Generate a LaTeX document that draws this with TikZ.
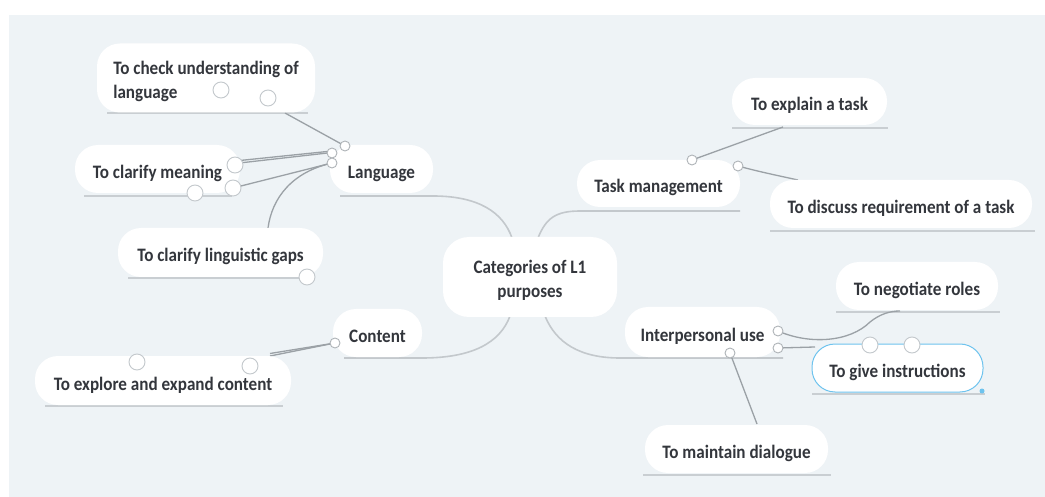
\documentclass[tikz,border=0pt]{standalone}
\usepackage{fontspec}
\setmainfont{Carlito}[FakeStretch=0.9]
\definecolor{bgc}{HTML}{EEF3F6}
\definecolor{txt}{HTML}{33363C}
\definecolor{ulc}{HTML}{C9CED2}
\definecolor{conc}{HTML}{9BA1A6}
\definecolor{brc}{HTML}{C3C8CC}
\definecolor{selc}{HTML}{6EC3EE}
\tikzset{
  box/.style={fill=white, rounded corners=23pt, inner sep=0pt, text=txt,
    font=\bfseries\fontsize{19}{24.5}\selectfont, align=center},
  oneline/.style={text height=19pt, text depth=0pt},
  lbl/.style={text=txt, font=\bfseries\fontsize{19}{24.5}\selectfont, inner sep=0pt},
  uline/.style={draw=ulc, line width=1.6pt},
  branch/.style={draw=brc, line width=1.6pt},
  conn/.style={draw=conc, line width=1.3pt},
  knob/.style={circle, draw=conc!80, fill=white, line width=0.9pt, inner sep=0pt, minimum size=10pt},
  bigknob/.style={circle, draw=brc, fill=white, line width=0.9pt, inner sep=0pt, minimum size=16pt},
}
\begin{document}
\begin{tikzpicture}[x=1pt,y=-1pt]
\useasboundingbox (0,0) rectangle (1045,497);
\fill[white] (0,0) rectangle (1045,497);
\fill[bgc] (9,15) rectangle (1045,497);

% coordinates
\coordinate (L1) at (345,146);
\coordinate (L2) at (332,153);
\coordinate (L3) at (332,163);
\coordinate (M1) at (235,165);
\coordinate (M2) at (195,193);
\coordinate (M3) at (233,188);
\coordinate (K1) at (221,90);
\coordinate (K2) at (268,98);
\coordinate (G1) at (307,277);
\coordinate (C1) at (335,343);
\coordinate (E1) at (137,362);
\coordinate (E2) at (250,366);
\coordinate (T1) at (692,160);
\coordinate (T2) at (738,166);
\coordinate (I1) at (778,331);
\coordinate (I2) at (778,348);
\coordinate (I3) at (730,353);
\coordinate (V1) at (870,345);
\coordinate (V2) at (912,345);
\coordinate (chkend) at (285,113);
\coordinate (gapsend) at (268,228);
\coordinate (explend) at (270,355);
\coordinate (exptend) at (783,127);
\coordinate (discend) at (798,180);
\coordinate (negoend) at (900,311);
\coordinate (giveend) at (815,347);
\coordinate (maintend) at (757,424);
\coordinate (ctrA) at (512,238);
\coordinate (ctrB) at (538,238);
\coordinate (ctrC) at (510,316);
\coordinate (ctrD) at (545,316);

% underlines
\draw[uline] (107,113) -- (308,113);
\draw[uline] (84,196) -- (232,196);
\draw[uline] (128,278) -- (305,278);
\draw[uline] (45,406) -- (283,406);
\draw[uline] (732,128) -- (888,128);
\draw[uline] (770,231) -- (1035,231);
\draw[uline] (836,312) -- (1000,312);
\draw[uline] (812,394) -- (985,394);
\draw[uline] (643,475) -- (831,475);

% branches from the centre
\draw[branch] (340,196) -- (433,196) .. controls (478,196) and (503,212) .. (ctrA);
\draw[branch] (ctrB) .. controls (546,218) and (556,211) .. (580,211) -- (740,211);
\draw[branch] (ctrC) .. controls (500,343) and (472,358) .. (422,358) -- (344,358);
\draw[branch] (ctrD) .. controls (556,343) and (580,358) .. (620,358) -- (783,358);

% connectors
\draw[conn] (chkend) -- (L1);
\draw[conn] ([yshift=1.5]M1) -- ([yshift=0.5]L2);
\draw[conn] ([yshift=4]M1) -- ([yshift=2]L2);
\draw[conn] (M3) -- (L3);
\draw[conn] (L3) .. controls (292,172) and (272,198) .. (gapsend);
\draw[conn] (C1) -- ([yshift=-1]explend);
\draw[conn] (C1) -- ([yshift=1.5]explend);
\draw[conn] (T1) -- (exptend);
\draw[conn] (T2) .. controls (760,172) and (780,176) .. (discend);
\draw[conn] (I1) .. controls (810,345) and (850,342) .. (870,322) .. controls (880,314) and (890,311) .. (negoend);
\draw[conn] (I2) -- (giveend);
\draw[conn] (I3) -- (maintend);

% boxes
\node[box, minimum width=218pt, minimum height=69pt,
  label={[lbl, align=left, yshift=-3.5pt]center:{To check understanding of\\language}}] (chk) at (206,78) {};
\node[box, oneline, minimum width=165pt, minimum height=48pt] (mean) at (157.5,169) {To clarify meaning};
\node[box, oneline, minimum width=205pt, minimum height=49pt] (gaps) at (220.5,252.5) {To clarify linguistic gaps};
\node[box, oneline, minimum width=103pt, minimum height=48pt] (lang) at (381.5,169) {Language};
\node[box, oneline, minimum width=89pt, minimum height=48pt] (cont) at (377.5,333) {Content};
\node[box, oneline, minimum width=256pt, minimum height=49pt] (expl) at (163,380.5) {To explore and expand content};
\node[box, minimum width=174pt, minimum height=80pt, rounded corners=26pt,
  label={[lbl, align=center, yshift=-3.5pt]center:{Categories of L1\\purposes}}] (ctr) at (530,277) {};
\node[box, oneline, minimum width=163pt, minimum height=47pt] (task) at (658.5,183.5) {Task management};
\node[box, oneline, minimum width=155pt, minimum height=47pt] (expt) at (809.5,101.5) {To explain a task};
\node[box, oneline, minimum width=262pt, minimum height=48pt] (disc) at (901,204) {To discuss requirement of a task};
\node[box, oneline, minimum width=155pt, minimum height=50pt] (inter) at (702.5,332) {Interpersonal use};
\node[box, oneline, minimum width=162pt, minimum height=48pt] (nego) at (917,286) {To negotiate roles};
\node[box, oneline, minimum width=171pt, minimum height=48pt, draw=selc, line width=1pt] (give) at (897.5,368) {To give instructions};
\node[box, oneline, minimum width=183pt, minimum height=48pt] (maint) at (736.5,449) {To maintain dialogue};

% knobs
\foreach \c in {L1,L2,L3,C1,T1,T2,I1,I2,I3} \node[knob] (k\c) at (\c) {};
\foreach \c in {K1,K2,M1,M2,M3,G1,E1,E2,V1,V2} \node[bigknob] (k\c) at (\c) {};
\node[circle, fill=selc, inner sep=0pt, minimum size=5pt] (seldot) at (982,391) {};
\end{tikzpicture}
\end{document}
